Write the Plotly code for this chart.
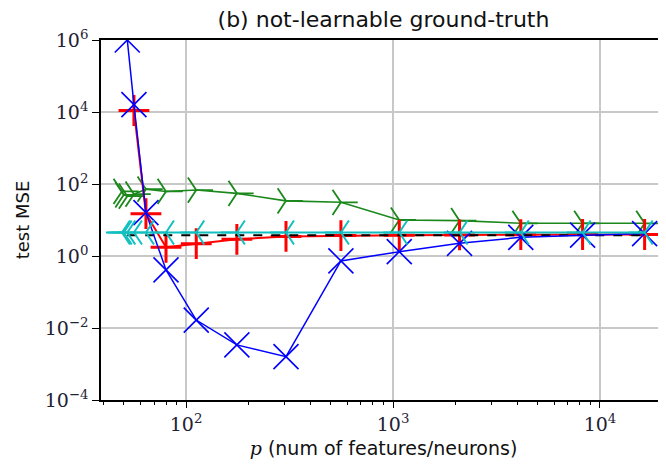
import plotly.graph_objects as go

# p values (num of features/neurons)
p_blue = [52, 56, 64, 80, 112, 176, 304, 560, 1072, 2096, 4144, 8240, 16432]
mse_blue = [1.0e6, 1.6e4, 16, 0.41, 0.0166, 0.0034, 0.0016, 0.73, 1.32, 2.25, 3.3, 3.8, 4.2]

p_red = [56, 64, 80, 112, 176, 304, 560, 1072, 2096, 4144, 8240, 16432]
mse_red = [1.1e4, 15, 1.75, 2.2, 2.9, 3.5, 3.7, 3.8, 3.85, 3.9, 3.95, 3.95]

p_green = [49, 50, 52, 56, 64, 80, 112, 176, 304, 560, 1072, 2096, 4144, 8240, 16432]
mse_green = [62, 50, 46, 52, 72, 62, 68, 55, 34, 31, 10, 9.6, 8.1, 8.1, 8.1]

p_cyan = [49, 50, 52, 56, 64, 80, 112, 176, 304, 560, 1072, 2096, 4144, 8240, 16432]
mse_cyan = [4.5] * 15

p_black = [52, 16432]
mse_black = [3.8, 3.8]

x_major = [100, 1000, 10000]
x_major_text = ["10<sup>2</sup>", "10<sup>3</sup>", "10<sup>4</sup>"]
x_minor = [40, 50, 60, 70, 80, 90, 200, 300, 400, 500, 600, 700, 800, 900,
           2000, 3000, 4000, 5000, 6000, 7000, 8000, 9000, 20000]
y_major = [1e-4, 1e-2, 1, 1e2, 1e4, 1e6]
y_major_text = ["10<sup>−4</sup>", "10<sup>−2</sup>", "10<sup>0</sup>",
                "10<sup>2</sup>", "10<sup>4</sup>", "10<sup>6</sup>"]

fig = go.Figure()

fig.add_trace(go.Scatter(x=p_green, y=mse_green, mode="lines+markers",
                         line=dict(color="#1a881a", width=1.6),
                         marker=dict(symbol="y-right", size=21,
                                     line=dict(color="#1a881a", width=1.8)),
                         showlegend=False))
fig.add_trace(go.Scatter(x=p_red, y=mse_red, mode="lines+markers",
                         line=dict(color="#ff0000", width=2),
                         marker=dict(symbol="cross-thin", size=22,
                                     line=dict(color="#ff0000", width=3)),
                         showlegend=False))
fig.add_trace(go.Scatter(x=p_black, y=mse_black, mode="lines",
                         line=dict(color="black", width=2, dash="dash"),
                         showlegend=False))
fig.add_trace(go.Scatter(x=p_blue, y=mse_blue, mode="lines+markers",
                         line=dict(color="#0000ff", width=1.5),
                         marker=dict(symbol="x-thin", size=25,
                                     line=dict(color="#0000ff", width=1.6)),
                         showlegend=False))
fig.add_trace(go.Scatter(x=p_cyan, y=mse_cyan, mode="lines+markers",
                         line=dict(color="#10c0c0", width=2.2),
                         marker=dict(symbol="y-left", size=20,
                                     line=dict(color="#10c0c0", width=2)),
                         showlegend=False))

# the page body adds an 8px offset; figure is sized to fill the rest
fig.update_layout(
    width=658, height=461,
    margin=dict(l=93, r=0, t=32, b=69, autoexpand=False),
    paper_bgcolor="white", plot_bgcolor="white",
    title=dict(text="(b) not-learnable ground-truth", x=0.5, xref="paper",
               y=1 - 11 / 461, yanchor="middle",
               font=dict(family="DejaVu Sans", size=22, color="#111")),
    xaxis=dict(type="log", range=[1.589, 4.319], automargin=False,
               tickvals=x_major, ticktext=x_major_text,
               ticks="outside", ticklen=6, tickwidth=1, tickcolor="black",
               showline=True, linecolor="black", linewidth=1.5, mirror=True,
               showgrid=True, gridcolor="#c8c8c8", gridwidth=1.5,
               zeroline=False,
               tickfont=dict(family="DejaVu Serif", size=19, color="#223"),
               minor=dict(tickvals=x_minor, ticks="outside", ticklen=3.5,
                          tickcolor="black", showgrid=False),
               title=dict(text="<span style='font-family:DejaVu Serif'><i>p</i></span> (num of features/neurons)",
                          font=dict(family="DejaVu Sans", size=19, color="#111"),
                          standoff=8)),
    yaxis=dict(type="log", range=[-4, 6], automargin=False,
               tickvals=y_major, ticktext=y_major_text,
               ticks="outside", ticklen=7, tickwidth=1, tickcolor="black",
               showline=True, linecolor="black", linewidth=1.5, mirror=False,
               showgrid=True, gridcolor="#c8c8c8", gridwidth=1.5,
               zeroline=False,
               tickfont=dict(family="DejaVu Serif", size=19, color="#223"),
               title=dict(text="test MSE",
                          font=dict(family="DejaVu Sans", size=18, color="#111"),
                          standoff=10)),
)

fig.write_html("out.html")
